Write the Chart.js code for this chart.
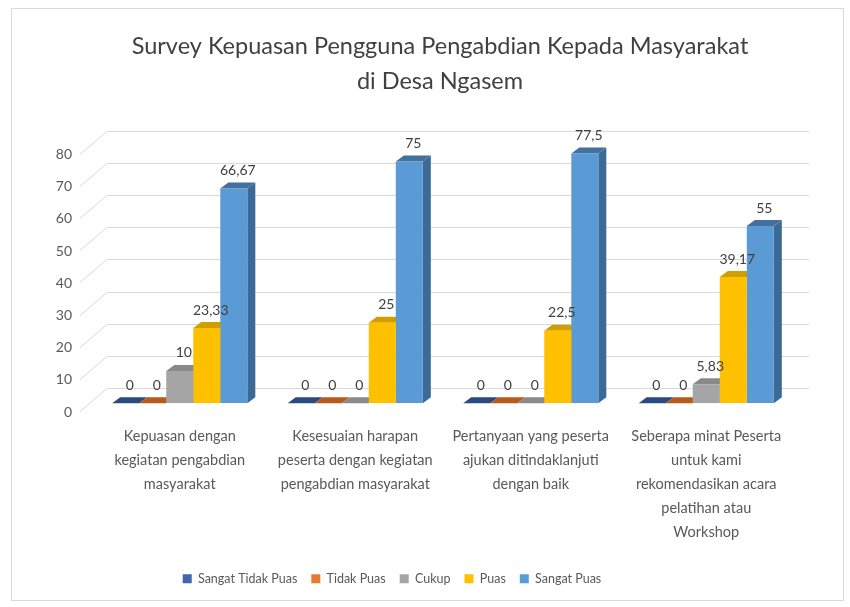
<!DOCTYPE html>
<html><head><meta charset="utf-8">
<script src="https://cdn.jsdelivr.net/npm/chart.js@4"></script>
<style>html,body{margin:0;padding:0;background:#fff}#wrap{width:850px;height:607px;position:relative}</style>
</head><body><div id="wrap"><canvas id="c" width="850" height="607"></canvas></div>
<script>
const categories = [
  ["Kepuasan dengan", "kegiatan pengabdian", "masyarakat"],
  ["Kesesuaian harapan", "peserta dengan kegiatan", "pengabdian masyarakat"],
  ["Pertanyaan yang peserta", "ajukan ditindaklanjuti", "dengan baik"],
  ["Seberapa minat Peserta", "untuk kami", "rekomendasikan acara", "pelatihan atau", "Workshop"]
];
const seriesNames = ["Sangat Tidak Puas", "Tidak Puas", "Cukup", "Puas", "Sangat Puas"];
const sangatTidakPuas = [0, 0, 0, 0];
const tidakPuas = [0, 0, 0, 0];
const cukup = [10, 0, 0, 5.83];
const puas = [23.33, 25, 22.5, 39.17];
const sangatPuas = [66.67, 75, 77.5, 55];
const yTicks = [0, 10, 20, 30, 40, 50, 60, 70, 80];
const titleLines = ["Survey Kepuasan Pengguna Pengabdian Kepada Masyarakat", "di Desa Ngasem"];

const FONT = "Lato, 'Liberation Sans', sans-serif";
const faces = [
  {front: '#3F66AE', top: '#2C4A82', side: '#2A4578'},
  {front: '#E47B35', top: '#B85A1A', side: '#A9541A'},
  {front: '#A5A5A5', top: '#8A8A8A', side: '#7E7E7E'},
  {front: '#FFC000', top: '#D09E00', side: '#BF9000'},
  {front: '#5B9BD5', top: '#41719C', side: '#3C6A96'}
];
const D = {bx: 8, by: 6, wx: 15, wy: 15};

function poly(ctx, pts, color) {
  ctx.beginPath();
  ctx.moveTo(pts[0][0], pts[0][1]);
  for (let i = 1; i < pts.length; i++) ctx.lineTo(pts[i][0], pts[i][1]);
  ctx.closePath();
  ctx.fillStyle = color;
  ctx.fill();
}

const threeD = {
  id: 'threeD',
  afterLayout(chart) {
    const lg = chart.legend;
    if (lg) { lg.left -= 32; lg.right -= 32; lg.top -= 7; lg.bottom -= 7; }
    const tb = chart.titleBlock;
    if (tb) { tb.left += 16; tb.right += 16; }
  },
  beforeDraw(chart) {
    const ctx = chart.ctx;
    ctx.save();
    ctx.strokeStyle = '#d9d9d9';
    ctx.lineWidth = 1;
    ctx.strokeRect(11.5, 8.5, 832, 592);
    ctx.restore();
  },
  beforeDatasetsDraw(chart) {
    const {ctx, chartArea: a, scales: {y}} = chart;
    ctx.save();
    ctx.strokeStyle = '#d9d9d9';
    ctx.lineWidth = 1;
    yTicks.forEach(v => {
      const fy = Math.round(y.getPixelForValue(v)) + 0.5;
      const by = fy - D.wy;
      ctx.beginPath(); ctx.moveTo(a.left + D.wx, by); ctx.lineTo(a.right + D.wx, by); ctx.stroke();
      ctx.beginPath(); ctx.moveTo(a.left - 12, fy + 8); ctx.lineTo(a.left + D.wx, by); ctx.stroke();
    });
    const n = chart.data.labels.length;
    for (let j = 0; j < n; j++) {
      chart.data.datasets.forEach((ds, i) => {
        const el = chart.getDatasetMeta(i).data[j];
        const x0 = el.x - el.width / 2, x1 = el.x + el.width / 2;
        const yt = el.y, yb = el.base;
        if (yb - yt > 0.5) {
          poly(ctx, [[x1, yt], [x1 + D.bx, yt - D.by], [x1 + D.bx, yb - D.by], [x1, yb]], faces[i].side);
        }
        poly(ctx, [[x0, yt], [x1, yt], [x1 + D.bx, yt - D.by], [x0 + D.bx, yt - D.by]], faces[i].top);
      });
    }
    ctx.restore();
  },
  afterDatasetsDraw(chart) {
    const ctx = chart.ctx;
    ctx.save();
    ctx.font = "14px " + FONT;
    ctx.fillStyle = '#404040';
    ctx.textAlign = 'center';
    ctx.textBaseline = 'middle';
    chart.data.datasets.forEach((ds, i) => {
      chart.getDatasetMeta(i).data.forEach((el, j) => {
        const v = ds.data[j];
        ctx.fillText(String(v).replace('.', ','), el.x + 4, el.y - 18);
      });
    });
    ctx.restore();
  }
};

const seriesData = [sangatTidakPuas, tidakPuas, cukup, puas, sangatPuas];
new Chart(document.getElementById('c'), {
  type: 'bar',
  data: {
    labels: categories,
    datasets: seriesNames.map((name, i) => ({
      label: name,
      data: seriesData[i],
      backgroundColor: faces[i].front,
      borderWidth: 0
    }))
  },
  options: {
    responsive: false,
    animation: false,
    devicePixelRatio: 1,
    datasets: {bar: {categoryPercentage: 0.77, barPercentage: 1}},
    layout: {padding: {left: 54, right: 56, top: 0, bottom: 5}},
    plugins: {
      title: {
        display: true, text: titleLines, color: '#404040',
        font: {family: FONT, size: 23.5, weight: 'normal', lineHeight: 1.5},
        padding: {top: 29, bottom: 46}
      },
      legend: {
        position: 'bottom',
        labels: {boxWidth: 9, boxHeight: 9, color: '#595959', font: {family: FONT, size: 12.5}, padding: 14}
      },
      tooltip: {enabled: false}
    },
    scales: {
      x: {
        afterFit(s) { s.paddingLeft = 0; s.paddingRight = 0; },
        grid: {display: false, drawTicks: false}, border: {display: false},
        ticks: {color: '#595959', font: {family: FONT, size: 14.5, lineHeight: 1.66}, padding: 21, maxRotation: 0, autoSkip: false}
      },
      y: {
        min: 0, max: 80,
        afterBuildTicks(s) { s.ticks = yTicks.map(v => ({value: v})); },
        afterFit(s) { s.width = 38; },
        ticks: {color: '#595959', font: {family: FONT, size: 14}, padding: 20, labelOffset: 9},
        grid: {display: false, drawTicks: false}, border: {display: false}
      }
    }
  },
  plugins: [threeD]
});
</script>
</body></html>
